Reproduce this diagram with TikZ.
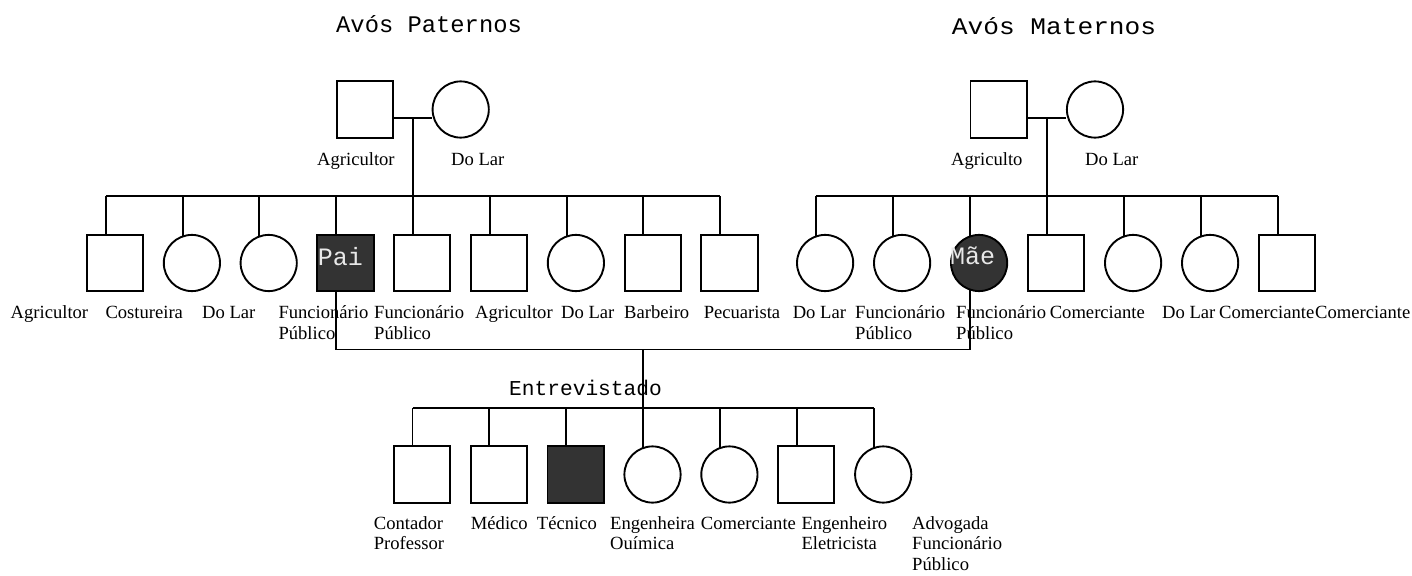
\documentclass[tikz,border=0pt]{standalone}
\usepackage{fontspec}
\setmainfont{Liberation Serif}
\newfontfamily\monof{Liberation Mono}
\usetikzlibrary{backgrounds}
\definecolor{dk}{HTML}{333333}
\definecolor{lt}{HTML}{E8E8E8}
\tikzset{
 ln/.style={line width=1.9pt},
 sq/.style={draw,line width=1.9pt,rectangle,minimum size=56.2pt,inner sep=0pt,fill=white},
 ci/.style={draw,line width=1.9pt,circle,minimum size=56.2pt,inner sep=0pt,fill=white},
 aff/.style={fill=dk},
 lbl/.style={anchor=base west,inner sep=0pt,font=\fontsize{18.6}{20.7}\selectfont},
 ttl/.style={anchor=base west,inner sep=0pt,font=\monof\fontsize{23.8}{26}\selectfont},
 egol/.style={anchor=base west,inner sep=0pt,font=\monof\fontsize{21.2}{24}\selectfont},
 intx/.style={anchor=base west,inner sep=0pt,text=lt,font=\monof\fontsize{25}{27}\selectfont},
}
\newcommand\ml[1]{\begin{tabular}[t]{@{}l@{}}#1\end{tabular}}
\begin{document}
\begin{tikzpicture}[x=1pt,y=-1pt]
\useasboundingbox (0,0) rectangle (1412,575);
% titles
\node[ttl] (t1) at (336,32.3) {Avós Paternos};
\node[ttl] (t2) at (951.7,35) {\scalebox{1.1}[1]{Avós Maternos}};
% grandparents
\node[sq] (pgf) at (364.7,109.5) {};
\node[ci] (pgm) at (460.7,109.5) {};
\node[sq] (mgf) at (998.6,109.5) {};
\node[ci] (mgm) at (1095,109.5) {};
\node[lbl] (lpgf) at (317,165) {Agricultor};
\node[lbl] (lpgm) at (451,165) {Do Lar};
\node[lbl] (lmgf) at (951,165) {Agriculto};
\node[lbl] (lmgm) at (1085,165) {Do Lar};
\coordinate (pmar) at (413,118);
\coordinate (pmid) at (413,195.7);
\coordinate (mmar) at (1046.8,118);
\coordinate (mmid) at (1046.8,195.7);
% paternal children
\node[sq] (pc1) at (115.1,263) {};
\node[ci] (pc2) at (191.9,263) {};
\node[ci] (pc3) at (268.7,263) {};
\node[sq,aff] (pc4) at (345.5,263) {};
\node[sq] (pc5) at (422.3,263) {};
\node[sq] (pc6) at (499.1,263) {};
\node[ci] (pc7) at (575.9,263) {};
\node[sq] (pc8) at (652.7,263) {};
\node[sq] (pc9) at (729.5,263) {};
% maternal children
\node[ci] (mc1) at (825.1,263) {};
\node[ci] (mc2) at (902.1,263) {};
\node[ci,aff] (mc3) at (979.1,263) {};
\node[sq] (mc4) at (1056.1,263) {};
\node[ci] (mc5) at (1133.1,263) {};
\node[ci] (mc6) at (1210.1,263) {};
\node[sq] (mc7) at (1287.1,263) {};
\node[intx] (tpai) at (317.7,265) {Pai};
\node[intx] (tmae) at (950,264.3) {Mãe};
% labels row 2
\node[lbl] (l1) at (10.5,318.5) {Agricultor};
\node[lbl] (l2) at (105.3,318.5) {Costureira};
\node[lbl] (l3) at (202,318.5) {Do Lar};
\node[lbl] (l4) at (278.3,318.5) {\ml{Funcionário\\Público}};
\node[lbl] (l5) at (374,318.5) {\ml{Funcionário\\Público}};
\node[lbl] (l6) at (475,318.5) {Agricultor};
\node[lbl] (l7) at (561,318.5) {Do Lar};
\node[lbl] (l8) at (624,318.5) {Barbeiro};
\node[lbl] (l9) at (703.6,318.5) {Pecuarista};
\node[lbl] (m1) at (792.6,318.5) {Do Lar};
\node[lbl] (m2) at (855,318.5) {\ml{Funcionário\\Público}};
\node[lbl] (m3) at (956,318.5) {\ml{Funcionário\\Público}};
\node[lbl] (m4) at (1049.6,318.5) {Comerciante};
\node[lbl] (m5) at (1162,318.5) {Do Lar};
\node[lbl] (m6) at (1219,318.5) {Comerciante};
\node[lbl] (m7) at (1315,318.5) {Comerciante};
% parents / interviewee
\coordinate (par) at (643.4,349.5);
\coordinate (ego) at (643.4,407.7);
\node[egol] (tego) at (509,395) {Entrevistado};
% bottom children
\node[sq] (bc1) at (421.8,474.5) {};
\node[sq] (bc2) at (498.7,474.5) {};
\node[sq,aff] (bc3) at (575.6,474.5) {};
\node[ci] (bc4) at (652.5,474.5) {};
\node[ci] (bc5) at (729.4,474.5) {};
\node[sq] (bc6) at (806.3,474.5) {};
\node[ci] (bc7) at (883.2,474.5) {};
\node[lbl] (b1) at (373.7,529) {\ml{Contador\\Professor}};
\node[lbl] (b2) at (470.7,529) {Médico};
\node[lbl] (b3) at (536.7,529) {Técnico};
\node[lbl] (b4) at (610,529) {\ml{Engenheira\\Ouímica}};
\node[lbl] (b5) at (700.7,529) {Comerciante};
\node[lbl] (b6) at (801.3,529) {\ml{Engenheiro\\Eletricista}};
\node[lbl] (b7) at (912,529) {\ml{Advogada\\Funcionário\\Público}};
\begin{pgfonlayer}{background}
\fill[white] (0,0) rectangle (1412,575);
% grandparents
\draw[ln] (pgf.east |- pmar) -- (pgm.west |- pmar);
\draw[ln] (pmar) -- (pmid);
\draw[ln] (mgf.east |- mmar) -- (mgm.west |- mmar);
\draw[ln] (mmar) -- (mmid);
% sibling lines
\draw[ln] ([xshift=-9.3pt]pc1.center |- pmid) -- ([xshift=-9.3pt]pc9.center |- pmid);
\foreach \i in {1,...,9}
  \draw[ln] ([xshift=-9.3pt]pc\i.center) -- ([xshift=-9.3pt]pc\i.center |- pmid);
\draw[ln] ([xshift=-9.3pt]mc1.center |- mmid) -- ([xshift=-9.3pt]mc7.center |- mmid);
\foreach \i in {1,...,7}
  \draw[ln] ([xshift=-9.3pt]mc\i.center) -- ([xshift=-9.3pt]mc\i.center |- mmid);
% parents
\draw[ln] ([xshift=-9.3pt]pc4.center) |- (par) -| ([xshift=-9.3pt]mc3.center);
\draw[ln] (par) -- (ego);
\draw[ln] ([xshift=-9.3pt]bc1.center |- ego) -- ([xshift=-9.3pt]bc7.center |- ego);
\foreach \i in {1,...,7}
  \draw[ln] ([xshift=-9.3pt]bc\i.center) -- ([xshift=-9.3pt]bc\i.center |- ego);
\end{pgfonlayer}
\end{tikzpicture}
\end{document}
